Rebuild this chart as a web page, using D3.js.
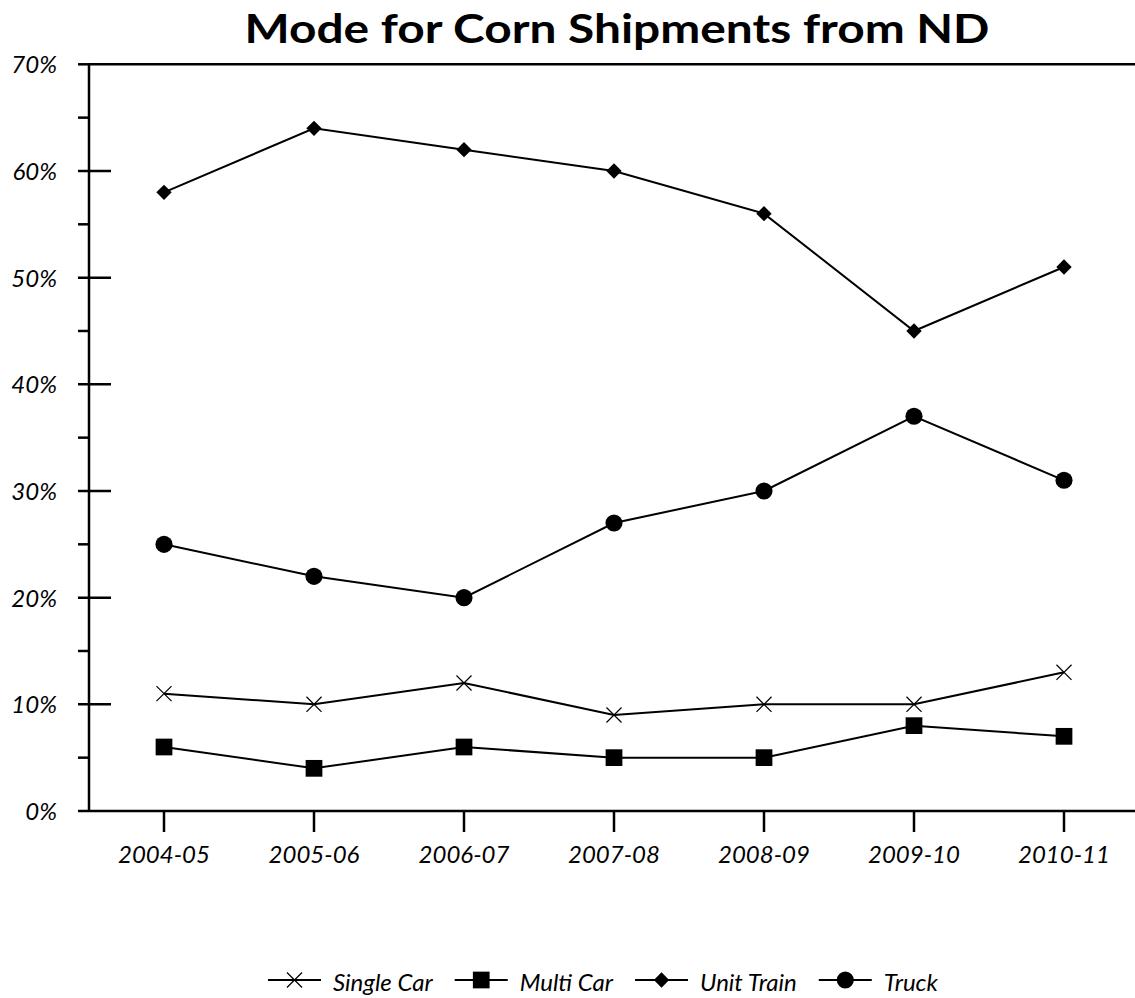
<!DOCTYPE html>
<html><head><meta charset="utf-8">
<script src="https://cdn.jsdelivr.net/npm/d3@7"></script>
<style>body{margin:0;background:#fff}svg{display:block}text{font-family:Lato,"Open Sans",sans-serif;fill:#000}</style>
</head><body>
<script>
const categories = ["2004-05","2005-06","2006-07","2007-08","2008-09","2009-10","2010-11"];
const singleCar = [11,10,12,9,10,10,13];
const multiCar = [6,4,6,5,5,8,7];
const unitTrain = [58,64,62,60,56,45,51];
const truck = [25,22,20,27,30,37,31];
const seriesNames = ["Single Car","Multi Car","Unit Train","Truck"];
const yTicks = [0,10,20,30,40,50,60,70];

const W=1135,H=998;
const svg=d3.select("body").append("svg").attr("width",W).attr("height",H);
const x=d3.scaleBand().domain(categories).range([89,1139]);
const y=d3.scaleLinear().domain([0,70]).range([811,64.3]);
const cx=d=>x(d)+x.bandwidth()/2;

// title
svg.append("text").attr("x",617).attr("y",43).attr("text-anchor","middle")
  .style("font-size","41px").style("font-weight","bold").attr("textLength",745).attr("lengthAdjust","spacingAndGlyphs")
  .text("Mode for Corn Shipments from ND");

// top border
svg.append("line").attr("x1",89).attr("x2",1139).attr("y1",y(70)).attr("y2",y(70)).attr("stroke","#000").attr("stroke-width",2.5);

// y axis
const ya=svg.append("g").attr("transform","translate(89,0)");
ya.append("line").attr("y1",y(0)).attr("y2",y(70)).attr("stroke","#000").attr("stroke-width",2.5);
d3.range(0,71,5).forEach(v=>{
  const major=v%10===0;
  ya.append("line").attr("x1",-11).attr("x2",major&&v!==0&&v!==70?22:0).attr("y1",y(v)).attr("y2",y(v)).attr("stroke","#000").attr("stroke-width",2.5);
});
ya.selectAll("text.yl").data(yTicks).join("text").attr("class","yl")
  .attr("x",-32).attr("y",d=>y(d)+9).attr("text-anchor","end")
  .style("font-size","24px").style("font-style","italic").text(d=>d+"%");

// x axis
const xa=svg.append("g");
xa.append("line").attr("x1",89).attr("x2",1139).attr("y1",y(0)).attr("y2",y(0)).attr("stroke","#000").attr("stroke-width",2.5);
xa.selectAll("line.xt").data(categories).join("line").attr("class","xt")
  .attr("x1",cx).attr("x2",cx).attr("y1",y(0)).attr("y2",y(0)+21).attr("stroke","#000").attr("stroke-width",2.5);
xa.selectAll("text.xl").data(categories).join("text").attr("class","xl")
  .attr("x",cx).attr("y",863).attr("text-anchor","middle")
  .style("font-size","24px").style("font-style","italic").text(d=>d);

// markers
const sym={
  "Single Car":d3.symbol().type(d3.symbolX).size(150),
  "Multi Car":d3.symbol().type(d3.symbolSquare).size(280),
  "Unit Train":d3.symbol().type(d3.symbolDiamond2).size(150),
  "Truck":d3.symbol().type(d3.symbolCircle).size(230)
};
function drawMarker(g,name,px,py){
  const p=g.append("path").attr("d",sym[name]()).attr("transform",`translate(${px},${py})`);
  if(name==="Single Car") p.attr("fill","none").attr("stroke","#000").attr("stroke-width",1.2);
  else p.attr("fill","#000");
}
const allData=[singleCar,multiCar,unitTrain,truck];
const line=d3.line().x((d,i)=>cx(categories[i])).y(d=>y(d));
allData.forEach((vals,k)=>{
  const g=svg.append("g");
  g.append("path").attr("d",line(vals)).attr("fill","none").attr("stroke","#000").attr("stroke-width",2);
  vals.forEach((v,i)=>drawMarker(g,seriesNames[k],cx(categories[i]),y(v)));
});

// legend
const leg=svg.append("g").attr("transform","translate(268,0)");
let lx=0;
seriesNames.forEach((n,i)=>{
  const g=leg.append("g").attr("transform",`translate(${lx},980)`);
  g.append("line").attr("x1",0).attr("x2",53).attr("y1",0).attr("y2",0).attr("stroke","#000").attr("stroke-width",2);
  drawMarker(g,n,26.5,0);
  const t=g.append("text").attr("x",65).attr("y",11).style("font-size","24px").style("font-style","italic").text(n);
  lx+=65+t.node().getComputedTextLength()+22;
});
</script>
</body></html>
